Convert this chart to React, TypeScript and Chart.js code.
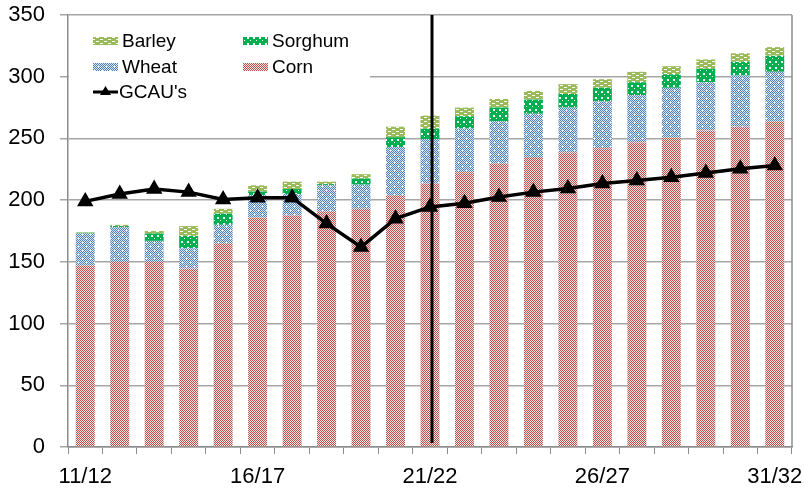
import React, { useEffect, useRef } from "react";
import { Chart, registerables } from "chart.js";

Chart.register(...registerables);

const seasons = [
  "11/12", "12/13", "13/14", "14/15", "15/16", "16/17", "17/18", "18/19", "19/20", "20/21",
  "21/22", "22/23", "23/24", "24/25", "25/26", "26/27", "27/28", "28/29", "29/30", "30/31", "31/32",
];
const corn = [147, 150, 150, 144.5, 165, 186, 187.5, 191, 193, 203.5, 213.5, 222.5, 229.5, 235, 238.5, 242, 247, 251, 256.5, 259.5, 264];
const wheat = [26, 28, 17, 16.5, 15, 18, 17.5, 21, 19.5, 39.5, 36, 35.5, 34.5, 35, 36.5, 38, 38, 40, 39, 41.5, 40];
const sorghum = [0.5, 1, 6, 10, 9, 3, 4, 1, 5, 8, 8.5, 10, 11, 11.5, 11, 11, 10.5, 11, 11, 11, 13];
const barley = [0.5, 1, 2, 8, 4, 5, 6, 2, 3.5, 8.5, 10.5, 7, 7, 7, 8, 7, 8.5, 6.5, 7.5, 7, 7];
const gcau = [199, 205, 209, 206.5, 200.5, 202, 202, 181, 162, 185, 194.5, 197.5, 202.5, 206.5, 209.5, 213.5, 216, 218.5, 222, 225.5, 228];
const yTicks = [0, 50, 100, 150, 200, 250, 300, 350];
const markerSeasonIndex = 10;

const FONT = "'Liberation Sans', Arial, sans-serif";

function makePattern(w: number, h: number, draw: (c: CanvasRenderingContext2D) => void) {
  const cv = document.createElement("canvas");
  cv.width = w;
  cv.height = h;
  const c = cv.getContext("2d")!;
  draw(c);
  return c.createPattern(cv, "repeat")!;
}

export default function App() {
  const ref = useRef<HTMLCanvasElement>(null);

  useEffect(() => {
    document.body.style.margin = "0";
    const cornP = makePattern(2, 2, (c) => {
      c.fillStyle = "#f6e4e4";
      c.fillRect(0, 0, 2, 2);
      c.fillStyle = "#c0504d";
      c.fillRect(0, 0, 1, 1);
      c.fillRect(1, 1, 1, 1);
    });
    const wheatP = makePattern(8, 8, (c) => {
      c.fillStyle = "#dce6f2";
      c.fillRect(0, 0, 8, 8);
      c.fillStyle = "#4f81bd";
      for (let y = 0; y < 8; y++)
        for (let x = 0; x < 8; x++) if ((x + y) % 2 === 0) c.fillRect(x, y, 1, 1);
      c.fillStyle = "#ffffff";
      c.fillRect(2, 2, 1, 1);
      c.fillRect(6, 6, 1, 1);
    });
    const sorghumP = makePattern(6, 6, (c) => {
      c.fillStyle = "#00b050";
      c.fillRect(0, 0, 6, 6);
      c.fillStyle = "#ffffff";
      c.fillRect(1, 1, 2, 2);
      c.fillRect(4, 4, 1, 1);
    });
    const barleyP = makePattern(8, 4, (c) => {
      c.fillStyle = "#9bbb59";
      c.fillRect(0, 0, 8, 4);
      c.fillStyle = "#ffffff";
      c.fillRect(0, 1, 3, 1);
      c.fillRect(4, 3, 3, 1);
    });

    const legendItems = [
      { label: "Barley", fill: barleyP, col: 0, row: 0 },
      { label: "Sorghum", fill: sorghumP, col: 1, row: 0 },
      { label: "Wheat", fill: wheatP, col: 0, row: 1 },
      { label: "Corn", fill: cornP, col: 1, row: 1 },
    ];

    const deco = {
      id: "deco",
      afterDatasetsDraw(chart: any) {
        const { ctx, chartArea, scales } = chart;
        ctx.save();
        // right border
        ctx.strokeStyle = "#8c8c8c";
        ctx.lineWidth = 1.5;
        ctx.beginPath();
        ctx.moveTo(chartArea.right, chartArea.top);
        ctx.lineTo(chartArea.right, chartArea.bottom);
        ctx.stroke();
        // vertical marker line
        const x = scales.x.getPixelForValue(markerSeasonIndex) + 2;
        ctx.strokeStyle = "#000";
        ctx.lineWidth = 3;
        ctx.beginPath();
        ctx.moveTo(x, chartArea.top);
        ctx.lineTo(x, chartArea.bottom - 4);
        ctx.stroke();
        // legend
        const lx = chartArea.left;
        const ly = chartArea.top;
        ctx.fillStyle = "#ffffff";
        ctx.fillRect(lx + 1, ly + 1, 301, 90);
        ctx.font = `19px ${FONT}`;
        ctx.textBaseline = "middle";
        ctx.textAlign = "left";
        const colX = [lx + 25, lx + 175];
        const rowY = [ly + 26, ly + 52, ly + 77];
        legendItems.forEach((it) => {
          const sx = colX[it.col];
          const sy = rowY[it.row];
          ctx.fillStyle = it.fill;
          ctx.fillRect(sx, sy - 4, 25, 8);
          ctx.fillStyle = "#000";
          ctx.fillText(it.label, sx + 29, sy + 1);
        });
        const gx = colX[0];
        const gy = rowY[2];
        ctx.strokeStyle = "#000";
        ctx.lineWidth = 3;
        ctx.beginPath();
        ctx.moveTo(gx, gy);
        ctx.lineTo(gx + 25, gy);
        ctx.stroke();
        ctx.fillStyle = "#000";
        ctx.beginPath();
        ctx.moveTo(gx + 12.5, gy - 6);
        ctx.lineTo(gx + 18, gy + 3);
        ctx.lineTo(gx + 7, gy + 3);
        ctx.closePath();
        ctx.fill();
        ctx.fillText("GCAU's", gx + 26, gy + 1);
        ctx.restore();
      },
    };

    const barCommon = {
      type: "bar" as const,
      stack: "grain",
      barPercentage: 0.55,
      categoryPercentage: 1,
      borderWidth: 0,
      order: 2,
    };

    const chart = new Chart(ref.current!, {
      type: "bar",
      data: {
        labels: seasons,
        datasets: [
          { ...barCommon, label: "Corn", data: corn, backgroundColor: cornP },
          { ...barCommon, label: "Wheat", data: wheat, backgroundColor: wheatP },
          { ...barCommon, label: "Sorghum", data: sorghum, backgroundColor: sorghumP },
          { ...barCommon, label: "Barley", data: barley, backgroundColor: barleyP },
          {
            type: "line",
            label: "GCAU's",
            data: gcau,
            stack: "gcau",
            borderColor: "#000",
            backgroundColor: "#000",
            borderWidth: 3.5,
            pointStyle: "triangle",
            pointRadius: 6,
            pointBackgroundColor: "#000",
            pointBorderColor: "#000",
            tension: 0,
            order: 1,
          } as any,
        ],
      },
      options: {
        responsive: false,
        animation: false,
        layout: { padding: { top: 15, right: 0, left: 0, bottom: 0 } },
        plugins: { legend: { display: false }, tooltip: { enabled: false } },
        scales: {
          x: {
            stacked: true,
            grid: { display: true, drawOnChartArea: false, drawTicks: true, tickLength: 7, color: "#8c8c8c", offset: true },
            border: { display: true, color: "#8c8c8c", width: 1.5 },
            ticks: {
              autoSkip: false,
              maxRotation: 0,
              minRotation: 0,
              padding: 10,
              color: "#000",
              font: { size: 22, family: FONT },
              callback: (_v: any, i: number) => (i % 5 === 0 ? seasons[i] : ""),
            },
            afterFit: (s: any) => {
              s.height = 41;
              s.paddingLeft = 0;
              s.paddingRight = 12;
            },
          },
          y: {
            stacked: true,
            min: yTicks[0],
            max: yTicks[yTicks.length - 1],
            afterBuildTicks: (s: any) => {
              s.ticks = yTicks.map((v) => ({ value: v }));
            },
            grid: { color: "#a6a6a6", lineWidth: 1.5, tickLength: 8 },
            border: { display: true, color: "#8c8c8c", width: 1.5 },
            ticks: { padding: 15, color: "#000", font: { size: 22, family: FONT } },
            afterFit: (s: any) => {
              s.width = 68;
              s.paddingTop = 0;
              s.paddingBottom = 0;
            },
          },
        },
      },
      plugins: [deco],
    });
    return () => chart.destroy();
  }, []);

  return (
    <div style={{ width: 804, height: 488 }}>
      <canvas ref={ref} width={804} height={488} style={{ display: "block" }} />
    </div>
  );
}
